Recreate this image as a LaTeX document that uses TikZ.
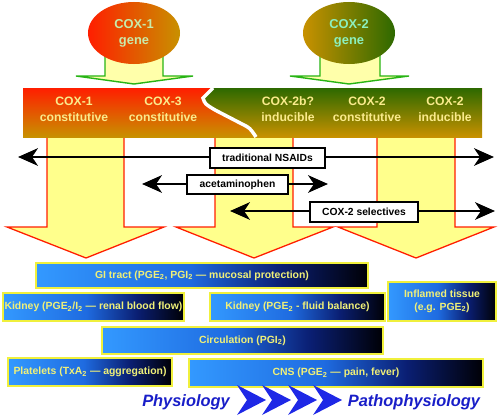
\documentclass[tikz,border=0pt]{standalone}
\usepackage{fontspec}
\setmainfont{Liberation Sans}
\usetikzlibrary{shapes.geometric,arrows.meta}

\definecolor{bannerred}{RGB}{255,30,0}
\definecolor{bannergold}{RGB}{200,145,0}
\definecolor{bannergreen}{RGB}{45,105,0}
\definecolor{genetextA}{RGB}{200,235,170}
\definecolor{genetextB}{RGB}{140,240,190}
\definecolor{enztext}{RGB}{250,235,140}
\definecolor{arrowfill}{RGB}{255,255,140}
\definecolor{arrowred}{RGB}{255,30,0}
\definecolor{genefill}{RGB}{255,255,170}
\definecolor{geneline}{RGB}{40,180,20}
\definecolor{organline}{RGB}{240,240,60}
\definecolor{organtext}{RGB}{240,240,120}
\definecolor{chevblue}{RGB}{30,40,230}
\definecolor{labelblue}{RGB}{25,30,200}

\pgfdeclarehorizontalshading{bluefade}{100bp}{rgb(0bp)=(0.2,0.6,1); rgb(25bp)=(0.2,0.6,1); rgb(48bp)=(0.12,0.42,0.88); rgb(62bp)=(0.04,0.12,0.45); rgb(75bp)=(0,0,0.02); rgb(100bp)=(0,0,0.02)}

\begin{document}
\begin{tikzpicture}[x=0.03cm, y=-0.03cm,
  gene/.style={ellipse, minimum width=2.76cm, minimum height=1.86cm, inner sep=0pt, align=center, font=\fontsize{11}{13.6}\selectfont\bfseries},
  enz/.style={align=center, text=enztext, font=\fontsize{10.4}{13.6}\selectfont\bfseries},
  drug/.style={draw=black, line width=1.7pt, fill=white, inner sep=0pt, minimum height=0.6cm, font=\fontsize{8.8}{10}\selectfont\bfseries},
  dbl/.style={line width=1.7pt, {Stealth[length=17pt,width=15pt,inset=5pt]}-{Stealth[length=17pt,width=15pt,inset=5pt]}},
  organ/.style={shading=bluefade, draw=organline, line width=1.6pt, inner sep=0pt, minimum height=0.84cm, align=center, text=organtext, font=\fontsize{8.9}{10.8}\selectfont\bfseries},
  bigarrow/.style={fill=arrowfill, draw=arrowred, line width=1.1pt},
  genearrow/.style={fill=genefill, draw=geneline, line width=1.2pt},
  chev/.style={fill=chevblue},
  side/.style={text=labelblue, font=\fontsize{14}{16}\selectfont\bfseries\itshape}]
    \useasboundingbox (0,0) rectangle (499,420);
    % Big arrows down
    \draw[bigarrow] (47,136) -- (47,227) -- (7,227) -- (86,258) -- (164,227) -- (124,227) -- (124,136);
    \draw[bigarrow] (215,136) -- (215,227) -- (176,227) -- (254,258) -- (333,227) -- (293,227) -- (293,136);
    \draw[bigarrow] (377,136) -- (377,227) -- (338,227) -- (416,258) -- (494,227) -- (455,227) -- (455,136);
    % Gene arrows
    \draw[genearrow] (105,50) -- (105,76) -- (76,76) -- (134,84) -- (193,76) -- (163,76) -- (163,50);
    \draw[genearrow] (320,50) -- (320,76) -- (290,76) -- (349,84) -- (409,76) -- (380,76) -- (380,50);
    % Genes
    \node[gene, left color=bannerred, right color=bannergold, text=genetextA] (cox1gene) at (134,33) {COX-1\\gene};
    \node[gene, left color=bannergold, right color=bannergreen, text=genetextB] (cox2gene) at (349,33) {COX-2\\gene};
    % Enzyme banner
    \shade[top color=bannerred, bottom color=bannergold] (23,88) rectangle (482,137);
    \shade[top color=bannergreen, bottom color=bannergold] (213,88) -- (482,88) -- (482,137) -- (256,137) .. controls (250,128) .. (242,124) -- (215,110) .. controls (205,104) .. (203,98) -- cycle;
    \draw[white, line width=3pt] (213,88) -- (203,98) .. controls (205,104) .. (215,110) -- (242,124) .. controls (250,128) .. (256,137);
    \node[enz] (cox1) at (74,109) {COX-1\\constitutive};
    \node[enz] (cox3) at (163,109) {COX-3\\constitutive};
    \node[enz] (cox2b) at (288,109) {COX-2b?\\inducible};
    \node[enz] (cox2c) at (367,109) {COX-2\\constitutive};
    \node[enz] (cox2i) at (445,109) {COX-2\\inducible};
    % Drugs
    \coordinate (nsaidL) at (18,157);
    \coordinate (nsaidR) at (494,157);
    \draw[dbl] (nsaidL) -- (nsaidR);
    \node[drug, minimum width=3.45cm] (nsaid) at (267.5,158) {traditional NSAIDs};
    \coordinate (acetL) at (142,184);
    \coordinate (acetR) at (328,184);
    \draw[dbl] (acetL) -- (acetR);
    \node[drug, minimum width=3.03cm, minimum height=0.57cm] (acet) at (237.5,184.5) {acetaminophen};
    \coordinate (coxibL) at (230,211);
    \coordinate (coxibR) at (495,211);
    \draw[dbl] (coxibL) -- (coxibR);
    \node[drug, minimum width=3.24cm] (coxib) at (364,212) {COX-2 selectives};
    % Tissues
    \node[organ, minimum width=9.96cm, minimum height=0.75cm] (gi) at (202,275.5) {GI tract (PGE\textsubscript{2}, PGI\textsubscript{2} — mucosal protection)};
    \node[organ, minimum width=5.43cm] (kidneyA) at (93.5,307) {Kidney (PGE\textsubscript{2}/I\textsubscript{2} — renal blood flow)};
    \node[organ, minimum width=5.25cm] (kidneyB) at (297.5,307) {Kidney (PGE\textsubscript{2} - fluid balance)};
    \node[organ, minimum width=3.24cm, minimum height=1.17cm] (inflamed) at (442,301.5) {Inflamed tissue\\(e.g. PGE\textsubscript{2})};
    \node[organ, minimum width=8.43cm, minimum height=0.81cm] (circ) at (242.5,340.5) {Circulation (PGI\textsubscript{2})};
    \node[organ, minimum width=4.92cm] (plate) at (90,372) {Platelets (TxA\textsubscript{2} — aggregation)};
    \node[organ, minimum width=8.82cm] (cns) at (336,373) {CNS (PGE\textsubscript{2} — pain, fever)};
    % Physiology to pathophysiology
    \node[side] (physio) at (186,402) {Physiology};
    \node[side] (patho) at (414,402) {Pathophysiology};
    \fill[chev] (237,385) -- (266,400) -- (237,415) -- (247,400) -- cycle;
    \fill[chev] (262,385) -- (291,400) -- (262,415) -- (272,400) -- cycle;
    \fill[chev] (288,385) -- (317,400) -- (288,415) -- (298,400) -- cycle;
    \fill[chev] (313,385) -- (342,400) -- (313,415) -- (323,400) -- cycle;
\end{tikzpicture}
\end{document}
